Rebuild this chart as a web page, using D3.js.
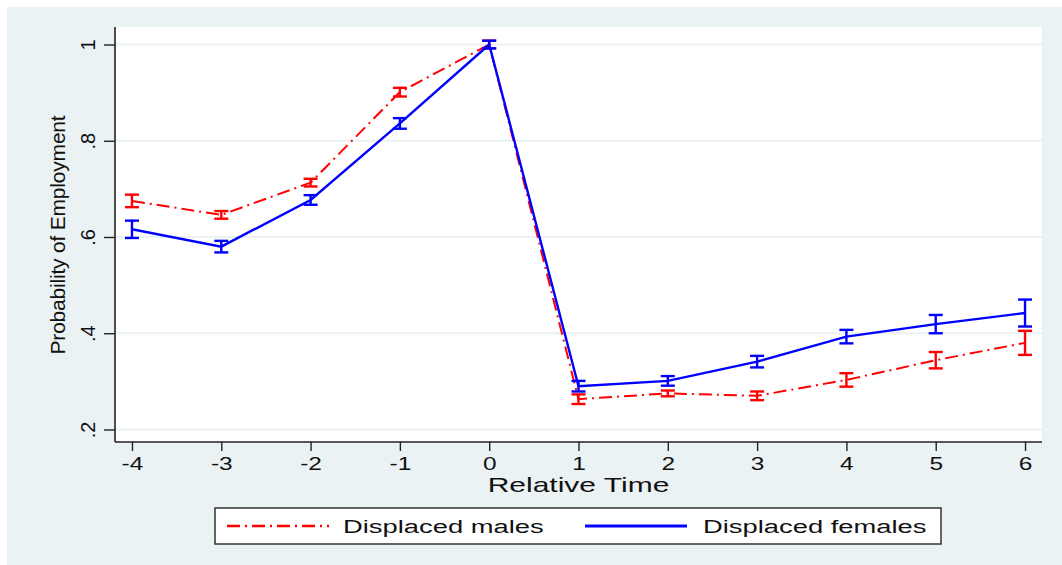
<!DOCTYPE html>
<html>
<head>
<meta charset="utf-8">
<script src="https://cdn.jsdelivr.net/npm/d3@7"></script>
<style>
  html, body { margin: 0; padding: 0; background: #ffffff; }
  svg { display: block; }
  text { font-family: "Liberation Sans", Arial, sans-serif; fill: #111; }
</style>
</head>
<body>
<svg id="chart" width="1062" height="565"></svg>
<script>
// Relative time (years around displacement)
const relTime = [-4, -3, -2, -1, 0, 1, 2, 3, 4, 5, 6];

// Probability of employment, displaced males, with CI half-widths
const malesProb = [0.675, 0.646, 0.713, 0.901, 1.000, 0.263, 0.275, 0.270, 0.303, 0.344, 0.380];
const malesCI   = [0.013, 0.008, 0.008, 0.009, 0.008, 0.010, 0.006, 0.009, 0.014, 0.017, 0.025];

// Probability of employment, displaced females, with CI half-widths
const femalesProb = [0.616, 0.580, 0.677, 0.836, 1.000, 0.290, 0.301, 0.341, 0.393, 0.419, 0.442];
const femalesCI   = [0.018, 0.012, 0.010, 0.011, 0.008, 0.011, 0.010, 0.012, 0.014, 0.019, 0.028];

const yTicks = [0.2, 0.4, 0.6, 0.8, 1.0];
const yTickLabels = [".2", ".4", ".6", ".8", "1"];
const xTicks = relTime;
const xTickLabels = ["-4", "-3", "-2", "-1", "0", "1", "2", "3", "4", "5", "6"];

const seriesNames = ["Displaced males", "Displaced females"];

const W = 1062, H = 565;
const plot = { left: 115, right: 1042, top: 27, bottom: 442 };
const bg = "#eaf2f3";
const stretch = 1.4; // horizontal text stretch

const svg = d3.select("#chart");

// outer graph region
svg.append("rect").attr("x", 7).attr("y", 7).attr("width", W - 7).attr("height", H - 7).attr("fill", bg);
// plot region
svg.append("rect")
  .attr("x", plot.left).attr("y", plot.top)
  .attr("width", plot.right - plot.left).attr("height", plot.bottom - plot.top)
  .attr("fill", "#ffffff");

const x = d3.scaleLinear().domain([-4.19, 6.19]).range([plot.left, plot.right]);
const y = d3.scaleLinear().domain([0.174, 1.0364]).range([plot.bottom, plot.top]);

// horizontal gridlines
svg.append("g").selectAll("line").data(yTicks).join("line")
  .attr("x1", plot.left + 1).attr("x2", plot.right)
  .attr("y1", d => y(d)).attr("y2", d => y(d))
  .attr("stroke", bg).attr("stroke-width", 2.2);

// y axis
const yAxis = d3.axisLeft(y).tickValues(yTicks).tickSize(11).tickFormat("");
const gy = svg.append("g").attr("transform", `translate(${plot.left},0)`).call(yAxis);
gy.select(".domain").attr("d", `M0,${plot.top}V${plot.bottom}`).attr("stroke", "#222").attr("stroke-width", 1.6);
gy.selectAll(".tick line").attr("stroke", "#222").attr("stroke-width", 1.4);
gy.selectAll(".tick").append("text")
  .attr("transform", "translate(-20,0) rotate(-90)")
  .attr("text-anchor", "middle")
  .attr("fill", "#111")
  .style("font-size", "20px")
  .text((d, i) => yTickLabels[i]);

// x axis
const xAxis = d3.axisBottom(x).tickValues(xTicks).tickSize(9).tickFormat("");
const gx = svg.append("g").attr("transform", `translate(0,${plot.bottom})`).call(xAxis);
gx.select(".domain").attr("d", `M${plot.left},0H${plot.right}`).attr("stroke", "#222").attr("stroke-width", 1.6);
gx.selectAll(".tick line").attr("stroke", "#222").attr("stroke-width", 1.4);
gx.selectAll(".tick").append("text")
  .attr("transform", `translate(0,28) scale(${stretch},1)`)
  .attr("text-anchor", "middle")
  .attr("fill", "#111")
  .style("font-size", "17.5px")
  .text((d, i) => xTickLabels[i]);

// axis titles
svg.append("text")
  .attr("transform", `translate(${(plot.left + plot.right) / 2},492) scale(1.5,1)`)
  .attr("text-anchor", "middle")
  .style("font-size", "20px")
  .text("Relative Time");

svg.append("text")
  .attr("transform", `translate(65,${235}) rotate(-90)`)
  .attr("text-anchor", "middle")
  .style("font-size", "21px")
  .style("letter-spacing", "-0.2px")
  .text("Probability of Employment");

const styles = [
  { color: "#ff0000", width: 2.0, dash: "13,5,2,5" },
  { color: "#0000ff", width: 2.4, dash: null }
];

function drawSeries(vals, ci, st) {
  const pts = relTime.map((t, i) => ({ t, v: vals[i], e: ci[i] }));
  const line = d3.line().x(d => x(d.t)).y(d => y(d.v));
  svg.append("path").datum(pts)
    .attr("d", line)
    .attr("fill", "none")
    .attr("stroke", st.color)
    .attr("stroke-width", st.width)
    .attr("stroke-dasharray", st.dash);
  const g = svg.append("g").attr("stroke", st.color).attr("stroke-width", 2.4);
  const cap = 7;
  pts.forEach(d => {
    const cx = x(d.t), lo = y(d.v - d.e), hi = y(d.v + d.e);
    g.append("line").attr("x1", cx).attr("x2", cx).attr("y1", lo).attr("y2", hi);
    g.append("line").attr("x1", cx - cap).attr("x2", cx + cap).attr("y1", lo).attr("y2", lo);
    g.append("line").attr("x1", cx - cap).attr("x2", cx + cap).attr("y1", hi).attr("y2", hi);
  });
}

drawSeries(malesProb, malesCI, styles[0]);
drawSeries(femalesProb, femalesCI, styles[1]);

// legend
const leg = svg.append("g");
leg.append("rect")
  .attr("x", 215).attr("y", 508).attr("width", 726).attr("height", 36)
  .attr("fill", "#ffffff").attr("stroke", "#333").attr("stroke-width", 1.5);
const legItems = [
  { name: seriesNames[0], st: styles[0], x0: 227, tx: 343 },
  { name: seriesNames[1], st: styles[1], x0: 585, tx: 703 }
];
legItems.forEach(it => {
  leg.append("line")
    .attr("x1", it.x0).attr("x2", it.x0 + 102).attr("y1", 526).attr("y2", 526)
    .attr("stroke", it.st.color).attr("stroke-width", it.st.width + 0.6)
    .attr("stroke-dasharray", it.st.dash);
  leg.append("text")
    .attr("transform", `translate(${it.tx},533) scale(1.44,1)`)
    .style("font-size", "19px")
    .text(it.name);
});
</script>
</body>
</html>
